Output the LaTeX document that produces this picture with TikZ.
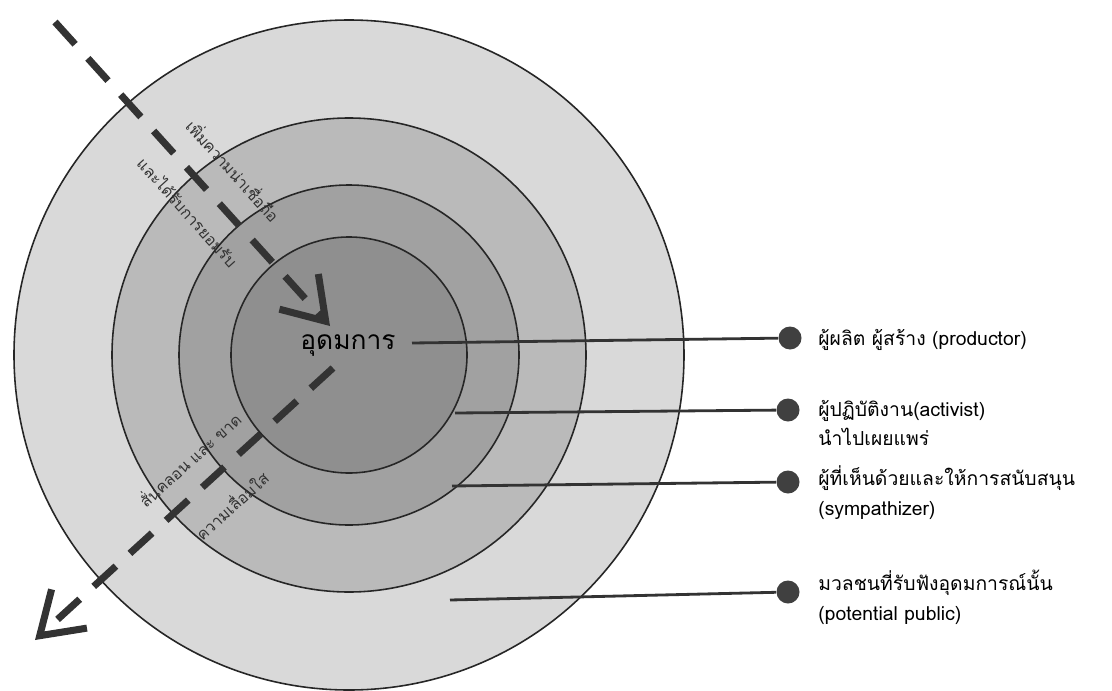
\documentclass[tikz,border=0pt]{standalone}
\usepackage{fontspec}
\newfontfamily\thaifont[Script=Thai]{Loma}
\usetikzlibrary{arrows.meta,positioning}

\tikzset{
  ring/.style={draw=black!85, line width=0.9pt},
  leader/.style={draw=black!80, line width=1.6pt},
  dotmark/.style={circle, fill=black!75, inner sep=0pt, minimum size=0.46cm},
  labeltext/.style={font=\thaifont\fontsize{11}{17}\selectfont, align=left, anchor=west, inner sep=0pt},
  alongtext/.style={font=\thaifont\fontsize{9}{11}\selectfont, text=black!80, inner sep=0pt},
  flowarrow/.style={draw=black!80, line width=4pt, dash pattern=on 0.6cm off 0.38cm,
    -{Straight Barb[length=0.8cm, width=1.05cm, line width=4pt]}}
}

\begin{document}
\begin{tikzpicture}[x=0.02cm, y=-0.02cm]
  \useasboundingbox (0,0) rectangle (1112,690);
  % rings, outer to inner
  \fill[white] (0,0) rectangle (1112,690);
  \coordinate (c) at (349,355);
  \filldraw[ring, fill=black!15] (c) circle[radius=335];
  \filldraw[ring, fill=black!27] (c) circle[radius=237];
  \filldraw[ring, fill=black!37] (c) circle[radius=170];
  \filldraw[ring, fill=black!44] (c) circle[radius=118];
  \node[font=\thaifont\fontsize{15}{17}\selectfont] (ideal) at (348,346) {อุดมการ};

  % arrow in, arrow out
  \coordinate (inA) at (55,22);
  \coordinate (inB) at (330,326);
  \draw[flowarrow] (inA) -- (inB);
  \coordinate (outA) at (333,368);
  \coordinate (outB) at (35,640);
  \draw[flowarrow] (outA) -- (outB);
  \node[alongtext, rotate=-48] (gain1) at (234,170) {เพิ่มความน่าเชื่อถือ};
  \node[alongtext, rotate=-48] (gain2) at (188,212) {และได้รับการยอมรับ};
  \node[alongtext, rotate=42] (lose1) at (189,459) {สั่นคลอน และ ขาด};
  \node[alongtext, rotate=42] (lose2) at (231,505) {ความเลื่อมใส};

  % leaders and labels
  \coordinate (s1) at (412,343);
  \coordinate (s2) at (455,413);
  \coordinate (s3) at (452,486);
  \coordinate (s4) at (450,600);
  \node[dotmark] (d1) at (790,338) {};
  \node[dotmark] (d2) at (788,410) {};
  \node[dotmark] (d3) at (788,482) {};
  \node[dotmark] (d4) at (788,592) {};
  \draw[leader] (s1) -- (d1);
  \draw[leader] (s2) -- (d2);
  \draw[leader] (s3) -- (d3);
  \draw[leader] (s4) -- (d4);
  \node[labeltext] (t1) at (818,340) {ผู้ผลิต ผู้สร้าง (productor)};
  \node[labeltext] (t2) at (818,423) {ผู้ปฏิบัติงาน(activist)\\นำไปเผยแพร่};
  \node[labeltext] (t3) at (818,493) {ผู้ที่เห็นด้วยและให้การสนับสนุน\\(sympathizer)};
  \node[labeltext] (t4) at (818,597) {มวลชนที่รับฟังอุดมการณ์นั้น\\(potential public)};
\end{tikzpicture}
\end{document}
